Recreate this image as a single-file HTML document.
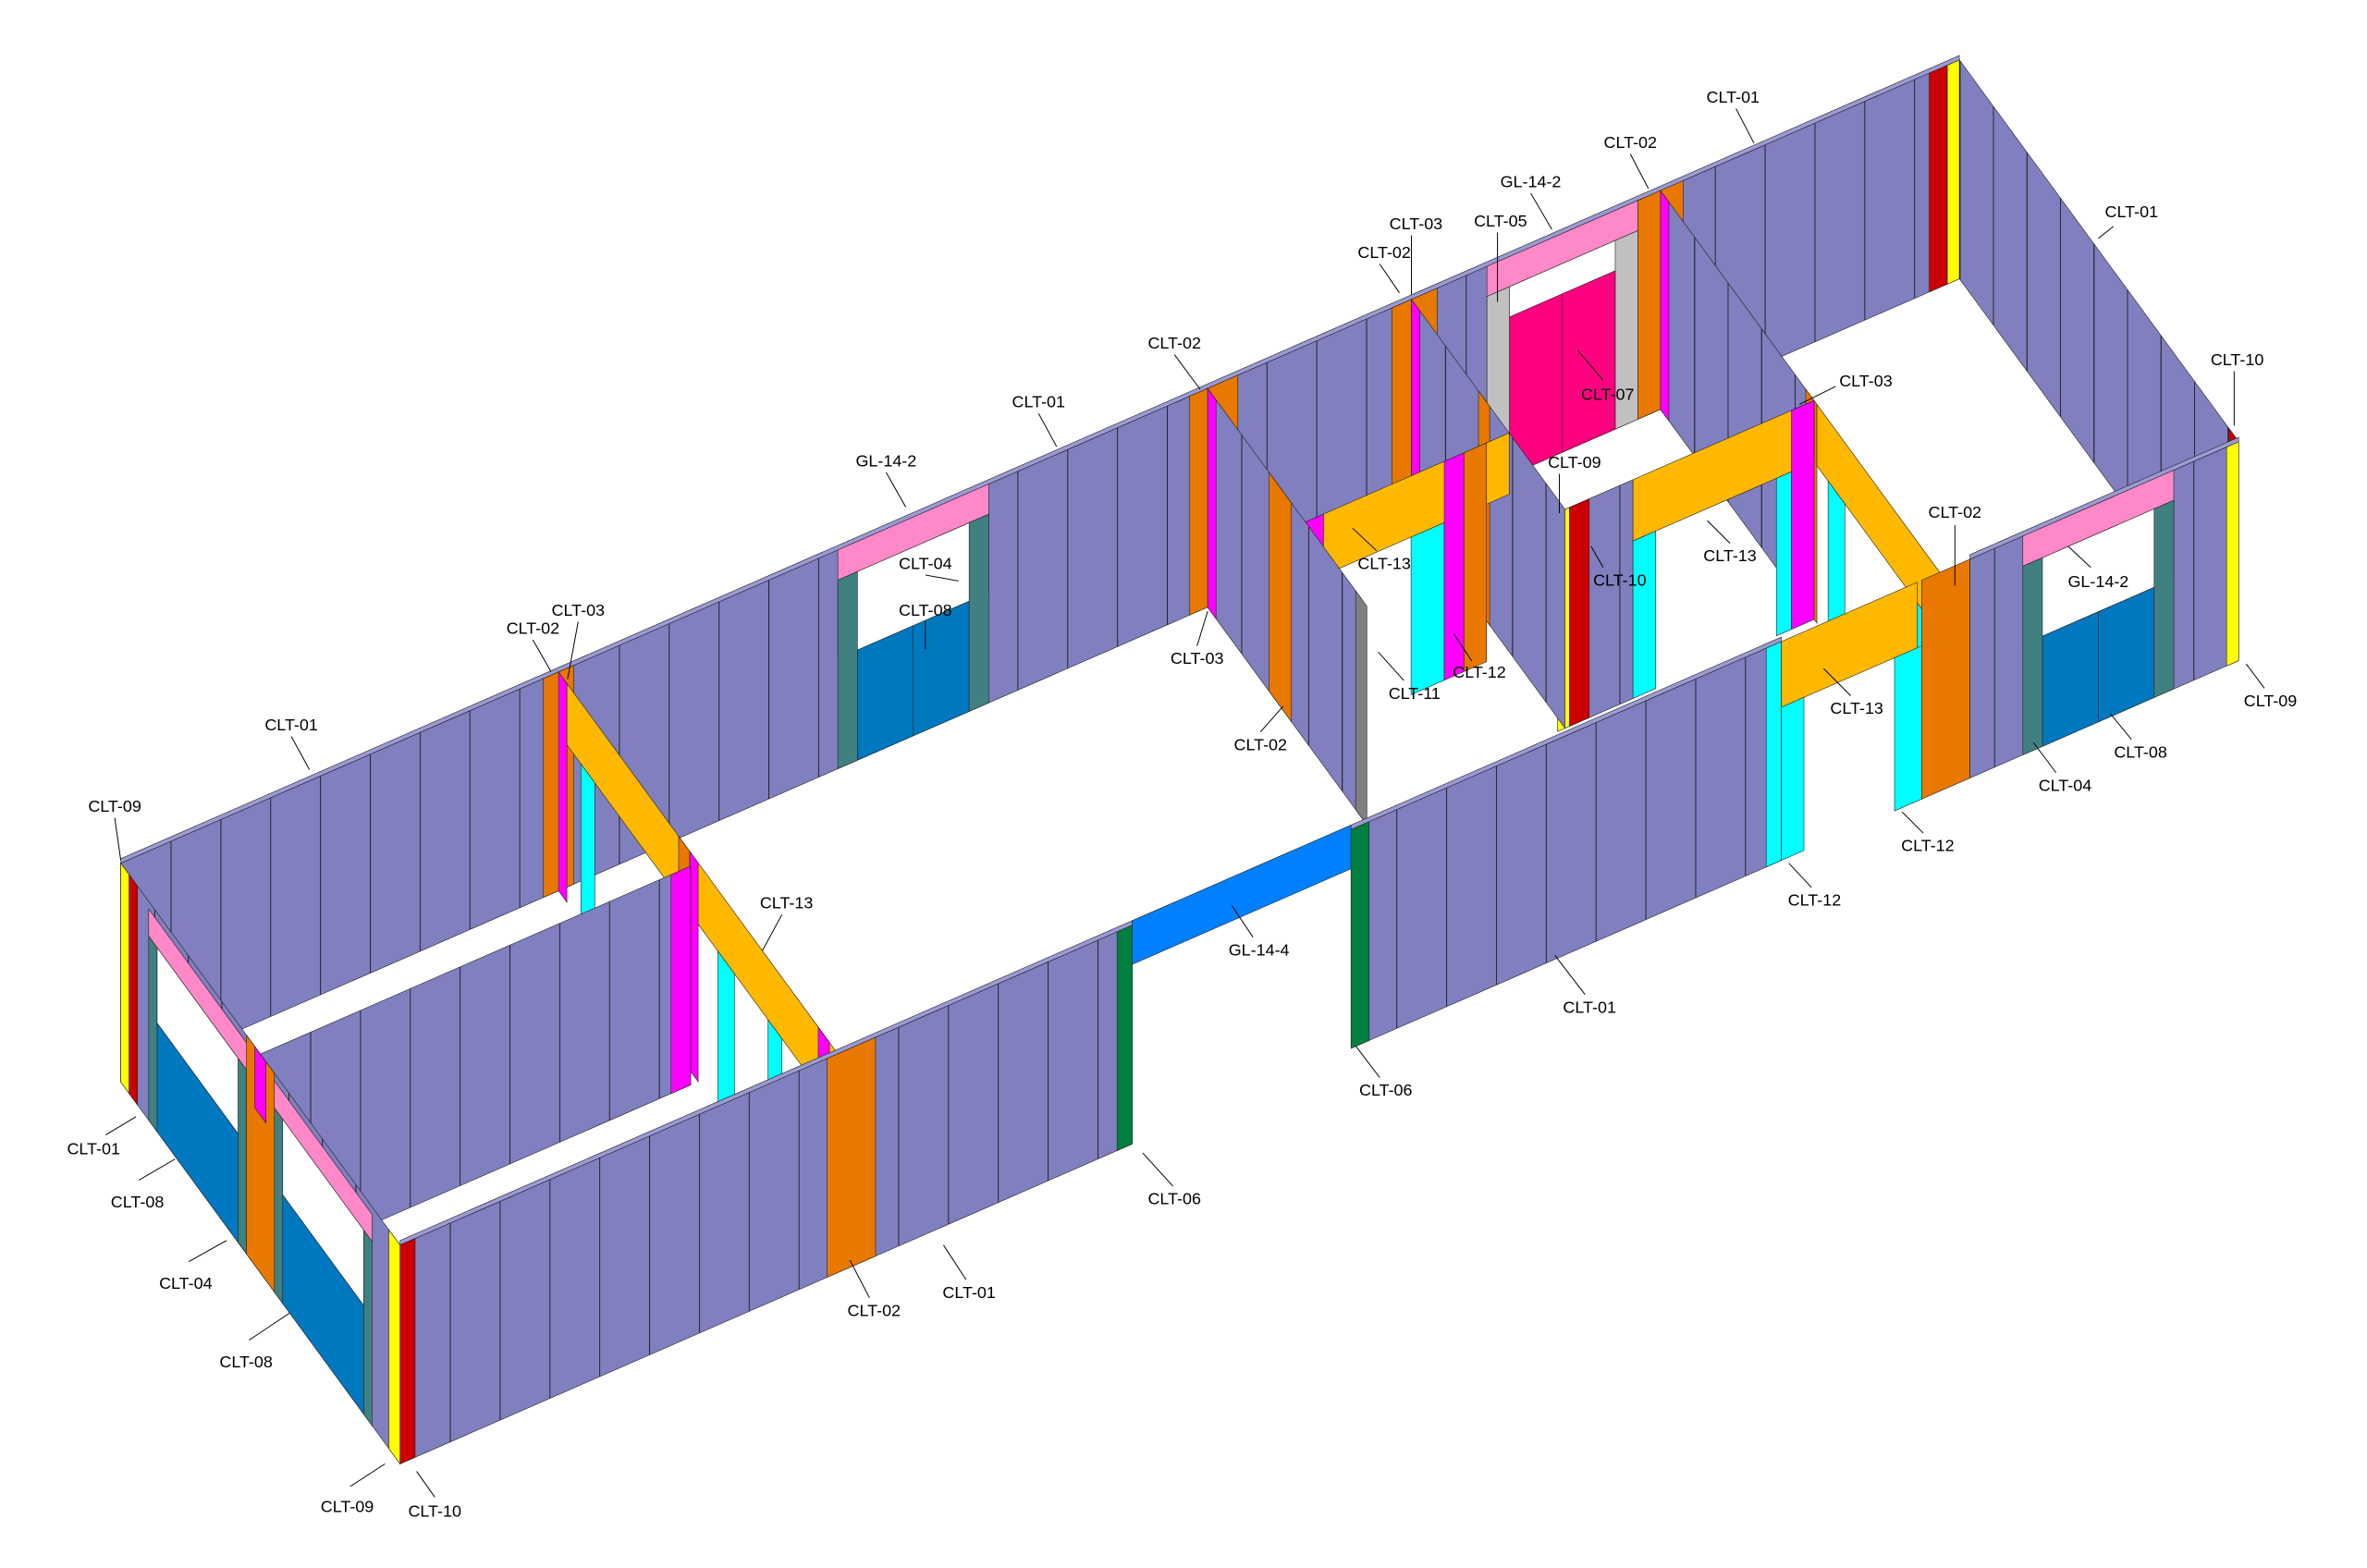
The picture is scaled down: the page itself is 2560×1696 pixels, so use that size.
<!DOCTYPE html>
<html><head><meta charset="utf-8"><style>
html,body{margin:0;padding:0;background:#fff;}
svg{display:block;}
text{font-family:"Liberation Sans",sans-serif;font-size:11px;fill:#000;}
g.w rect,g.w line{stroke:#222;stroke-width:0.6;vector-effect:non-scaling-stroke;}
</style></head><body>
<svg width="2560" height="1696" viewBox="0 0 1568 1039" preserveAspectRatio="none" xmlns="http://www.w3.org/2000/svg">
<defs>
<pattern id="pu" patternUnits="userSpaceOnUse" x="0" y="0" width="33" height="145">
<rect width="33" height="145" fill="#8080c0"/><line x1="0.3" y1="0" x2="0.3" y2="145" stroke="#222" stroke-width="0.6"/>
</pattern>
<pattern id="pv" patternUnits="userSpaceOnUse" x="0" y="0" width="12" height="145">
<rect width="12" height="145" fill="#8080c0"/><line x1="0.2" y1="0" x2="0.2" y2="145" stroke="#222" stroke-width="0.35"/>
</pattern>
</defs>
<rect width="1568" height="1039" fill="#fff"/>

<!-- back wall v=0 -->
<g class="w" transform="matrix(1,-0.437,0,1,80,717)">
<rect x="0" y="-145" width="1218" height="145" fill="url(#pu)"/>
<rect x="0" y="-148" width="1218" height="3" fill="#9a9ad4"/>
<rect x="475" y="-145" width="100" height="20" fill="#ff88c8"/>
<rect x="475" y="-125" width="100" height="52" fill="#fff"/>
<rect x="488" y="-73" width="74" height="73" fill="#0078c0"/>
<rect x="475" y="-125" width="13" height="125" fill="#408080"/>
<rect x="562" y="-125" width="13" height="125" fill="#408080"/>
<line x1="525" y1="-73" x2="525" y2="0"/>
<rect x="905" y="-145" width="100" height="20" fill="#ff88c8"/>
<rect x="905" y="-125" width="100" height="125" fill="#fff"/>
<rect x="905" y="-125" width="15" height="125" fill="#c0c0c0"/>
<rect x="990" y="-125" width="15" height="125" fill="#c0c0c0"/>
<rect x="920" y="-105" width="70" height="105" fill="#ff0080"/>
<line x1="955" y1="-105" x2="955" y2="0"/>
<rect x="280" y="-145" width="20" height="145" fill="#e87800"/>
<rect x="708" y="-145" width="32" height="145" fill="#e87800"/>
<rect x="842" y="-145" width="30" height="145" fill="#e87800"/>
<rect x="1005" y="-145" width="30" height="145" fill="#e87800"/>
<rect x="1198" y="-145" width="12" height="145" fill="#cc0000"/>
<rect x="1210" y="-145" width="8" height="145" fill="#ffff00"/>
</g>

<!-- right wall u=1218 -->
<g class="w" transform="matrix(1.85,2.53,0,1,1298,184.7)">
<rect x="0" y="-145" width="100" height="145" fill="url(#pv)"/>
<rect x="96.5" y="-145" width="3.5" height="145" fill="#cc0000"/>
</g>

<!-- cross wall u=1020 -->
<g class="w" transform="matrix(1.85,2.53,0,1,1100,271.3)">
<rect x="0" y="-145" width="55" height="145" fill="url(#pv)"/>
<rect x="0" y="-145" width="3" height="145" fill="#ff00ff"/>
<rect x="52" y="-145" width="4" height="145" fill="#e87800"/>
<rect x="56" y="-145" width="44" height="40.6" fill="#ffb800"/>
<rect x="60" y="-104.4" width="6" height="104.4" fill="#00ffff"/>
<rect x="90" y="-104.4" width="5" height="104.4" fill="#00ffff"/>
</g>

<!-- longitudinal v=0.55 -->
<g class="w" transform="matrix(1,-0.437,0,1,181.75,856.15)">
<rect x="855" y="-145" width="45" height="145" fill="url(#pu)"/>
<rect x="900" y="-145" width="120" height="40.6" fill="#ffb800"/>
<rect x="900" y="-104.4" width="15" height="104.4" fill="#00ffff"/>
<rect x="995" y="-104.4" width="10" height="104.4" fill="#00ffff"/>
<rect x="1005" y="-145" width="15" height="145" fill="#ff00ff"/>
<rect x="850" y="-145" width="8" height="145" fill="#ffff00"/>
<rect x="858" y="-145" width="13" height="145" fill="#cc0000"/>
</g>

<!-- cross wall u=855 -->
<g class="w" transform="matrix(1.85,2.53,0,1,935,343.4)">
<rect x="0" y="-145" width="55" height="145" fill="url(#pv)"/>
<rect x="0" y="-145" width="3" height="145" fill="#ff00ff"/>
<rect x="24" y="-145" width="4" height="145" fill="#e87800"/>
</g>

<!-- beam v=0.35 -->
<g class="w" transform="matrix(1,-0.437,0,1,144.75,805.55)">
<rect x="720" y="-145" width="135" height="40.6" fill="#ffb800"/>
<rect x="720" y="-145" width="12" height="145" fill="#ff00ff"/>
<rect x="732" y="-104.4" width="10" height="104.4" fill="#00ffff"/>
<rect x="790" y="-104.4" width="22" height="104.4" fill="#00ffff"/>
<rect x="812" y="-145" width="13" height="145" fill="#ff00ff"/>
<rect x="825" y="-145" width="15" height="145" fill="#e87800"/>
</g>

<!-- cross wall u=720 -->
<g class="w" transform="matrix(1.85,2.53,0,1,800,402.4)">
<rect x="0" y="-145" width="55" height="145" fill="url(#pv)"/>
<rect x="0" y="-145" width="3" height="145" fill="#ff00ff"/>
<rect x="22" y="-145" width="8" height="145" fill="#e87800"/>
<rect x="53" y="-145" width="4" height="145" fill="#808080"/>
</g>

<!-- cross wall u=290 -->
<g class="w" transform="matrix(1.85,2.53,0,1,370,590.3)">
<rect x="0" y="-145" width="3" height="145" fill="#ff00ff"/>
<rect x="3" y="-145" width="97" height="40.6" fill="#ffb800"/>
<rect x="8" y="-104.4" width="5" height="104.4" fill="#00ffff"/>
<rect x="43" y="-145" width="4" height="145" fill="#e87800"/>
<rect x="47" y="-145" width="3" height="145" fill="#ff00ff"/>
<rect x="57" y="-104.4" width="6" height="104.4" fill="#00ffff"/>
<rect x="75" y="-104.4" width="5" height="104.4" fill="#00ffff"/>
<rect x="93" y="-145" width="4" height="145" fill="#ff00ff"/>
</g>

<!-- longitudinal v=0.5 -->
<g class="w" transform="matrix(1,-0.437,0,1,172.5,843.5)">
<rect x="0" y="-145" width="285" height="145" fill="url(#pu)"/>
<rect x="272" y="-145" width="13" height="145" fill="#ff00ff"/>
</g>

<!-- front wall v=1 -->
<g class="w" transform="matrix(1,-0.437,0,1,265,970)">
<rect x="0" y="-145" width="485" height="145" fill="url(#pu)"/>
<rect x="0" y="-148" width="485" height="3" fill="#9a9ad4"/>
<rect x="283" y="-145" width="32" height="145" fill="#e87800"/>
<rect x="0" y="-145" width="10" height="145" fill="#cc0000"/>
<rect x="475" y="-145" width="10" height="145" fill="#008040"/>
<rect x="485" y="-148" width="145" height="29" fill="#0080ff"/>
<rect x="630" y="-145" width="285" height="145" fill="url(#pu)"/>
<rect x="630" y="-148" width="285" height="3" fill="#9a9ad4"/>
<rect x="630" y="-145" width="12" height="145" fill="#008040"/>
<rect x="905" y="-145" width="10" height="145" fill="#00ffff"/>
<rect x="915" y="-145" width="90" height="43.5" fill="#ffb800"/>
<rect x="915" y="-101.5" width="15" height="101.5" fill="#00ffff"/>
<rect x="990" y="-101.5" width="18" height="101.5" fill="#00ffff"/>
<rect x="1008" y="-145" width="32" height="145" fill="#e87800"/>
<rect x="1040" y="-145" width="178" height="145" fill="url(#pu)"/>
<rect x="1040" y="-148" width="178" height="3" fill="#9a9ad4"/>
<rect x="1075" y="-145" width="100" height="20" fill="#ff88c8"/>
<rect x="1075" y="-125" width="100" height="52" fill="#fff"/>
<rect x="1088" y="-73" width="74" height="73" fill="#0078c0"/>
<rect x="1075" y="-125" width="13" height="125" fill="#408080"/>
<rect x="1162" y="-125" width="13" height="125" fill="#408080"/>
<line x1="1125" y1="-73" x2="1125" y2="0"/>
<rect x="1210" y="-145" width="8" height="145" fill="#ffff00"/>
</g>

<!-- left wall u=0 -->
<g class="w" transform="matrix(1.85,2.53,0,1,80,717)">
<rect x="0" y="-145" width="100" height="145" fill="url(#pv)"/>
<rect x="10" y="-140" width="80" height="18" fill="#ff88c8"/>
<rect x="13" y="-122" width="32" height="50" fill="#fff"/>
<rect x="55" y="-122" width="32" height="50" fill="#fff"/>
<rect x="13" y="-72" width="32" height="72" fill="#0078c0"/>
<rect x="55" y="-72" width="32" height="72" fill="#0078c0"/>
<rect x="10" y="-122" width="3" height="122" fill="#408080"/>
<rect x="42" y="-122" width="3" height="122" fill="#408080"/>
<rect x="55" y="-122" width="3" height="122" fill="#408080"/>
<rect x="87" y="-122" width="3" height="122" fill="#408080"/>
<rect x="45" y="-145" width="10" height="145" fill="#e87800"/>
<rect x="48" y="-145" width="4" height="40.6" fill="#ff00ff"/>
<rect x="0" y="-145" width="3" height="145" fill="#ffff00"/>
<rect x="3" y="-145" width="3" height="145" fill="#cc0000"/>
<rect x="96" y="-145" width="4" height="145" fill="#ffff00"/>
</g>

<g stroke="#000" stroke-width="0.6">
<line x1="1150" y1="72" x2="1162" y2="95"/>
<line x1="1400" y1="150" x2="1390" y2="158"/>
<line x1="1014" y1="128" x2="1028" y2="152"/>
<line x1="1080" y1="102" x2="1092" y2="125"/>
<line x1="935" y1="156" x2="935" y2="195"/>
<line x1="992" y1="154" x2="992" y2="200"/>
<line x1="914" y1="175" x2="927" y2="194"/>
<line x1="1480" y1="246" x2="1480" y2="282"/>
<line x1="1062" y1="252" x2="1045" y2="232"/>
<line x1="778" y1="235" x2="795" y2="258"/>
<line x1="688" y1="274" x2="700" y2="296"/>
<line x1="1216" y1="256" x2="1192" y2="268"/>
<line x1="1033" y1="314" x2="1033" y2="340"/>
<line x1="587" y1="313" x2="600" y2="336"/>
<line x1="912" y1="365" x2="896" y2="350"/>
<line x1="1062" y1="376" x2="1054" y2="362"/>
<line x1="1146" y1="360" x2="1131" y2="345"/>
<line x1="1295" y1="348" x2="1295" y2="388"/>
<line x1="1385" y1="376" x2="1370" y2="362"/>
<line x1="613" y1="381" x2="635" y2="385"/>
<line x1="613" y1="412" x2="613" y2="430"/>
<line x1="383" y1="412" x2="376" y2="450"/>
<line x1="353" y1="424" x2="365" y2="445"/>
<line x1="793" y1="428" x2="800" y2="405"/>
<line x1="930" y1="451" x2="913" y2="432"/>
<line x1="975" y1="438" x2="963" y2="420"/>
<line x1="1226" y1="461" x2="1208" y2="443"/>
<line x1="1500" y1="456" x2="1488" y2="440"/>
<line x1="193" y1="488" x2="205" y2="510"/>
<line x1="835" y1="485" x2="850" y2="468"/>
<line x1="1412" y1="490" x2="1398" y2="473"/>
<line x1="1362" y1="512" x2="1347" y2="492"/>
<line x1="76" y1="542" x2="80" y2="570"/>
<line x1="1274" y1="552" x2="1260" y2="538"/>
<line x1="1200" y1="588" x2="1185" y2="572"/>
<line x1="518" y1="606" x2="505" y2="630"/>
<line x1="830" y1="621" x2="816" y2="600"/>
<line x1="1050" y1="659" x2="1030" y2="633"/>
<line x1="914" y1="714" x2="898" y2="693"/>
<line x1="70" y1="752" x2="90" y2="740"/>
<line x1="92" y1="782" x2="116" y2="768"/>
<line x1="777" y1="786" x2="757" y2="764"/>
<line x1="125" y1="836" x2="150" y2="822"/>
<line x1="640" y1="848" x2="625" y2="825"/>
<line x1="576" y1="860" x2="563" y2="835"/>
<line x1="165" y1="888" x2="192" y2="870"/>
<line x1="232" y1="985" x2="255" y2="970"/>
<line x1="288" y1="992" x2="276" y2="975"/>
</g>
<g text-anchor="middle">
<text x="1148" y="68">CLT-01</text>
<text x="1412" y="144">CLT-01</text>
<text x="1014" y="124">GL-14-2</text>
<text x="1080" y="98">CLT-02</text>
<text x="938" y="152">CLT-03</text>
<text x="994" y="150">CLT-05</text>
<text x="917" y="171">CLT-02</text>
<text x="1482" y="242">CLT-10</text>
<text x="1065" y="265">CLT-07</text>
<text x="778" y="231">CLT-02</text>
<text x="688" y="270">CLT-01</text>
<text x="1236" y="256">CLT-03</text>
<text x="1043" y="310">CLT-09</text>
<text x="587" y="309">GL-14-2</text>
<text x="917" y="377">CLT-13</text>
<text x="1073" y="388">CLT-10</text>
<text x="1146" y="372">CLT-13</text>
<text x="1295" y="343">CLT-02</text>
<text x="1390" y="389">GL-14-2</text>
<text x="613" y="377">CLT-04</text>
<text x="613" y="408">CLT-08</text>
<text x="383" y="408">CLT-03</text>
<text x="353" y="420">CLT-02</text>
<text x="793" y="440">CLT-03</text>
<text x="937" y="463">CLT-11</text>
<text x="980" y="449">CLT-12</text>
<text x="1230" y="473">CLT-13</text>
<text x="1504" y="468">CLT-09</text>
<text x="193" y="484">CLT-01</text>
<text x="835" y="497">CLT-02</text>
<text x="1418" y="502">CLT-08</text>
<text x="1368" y="524">CLT-04</text>
<text x="76" y="538">CLT-09</text>
<text x="1277" y="564">CLT-12</text>
<text x="1202" y="600">CLT-12</text>
<text x="521" y="602">CLT-13</text>
<text x="834" y="633">GL-14-4</text>
<text x="1053" y="671">CLT-01</text>
<text x="918" y="726">CLT-06</text>
<text x="62" y="765">CLT-01</text>
<text x="91" y="800">CLT-08</text>
<text x="778" y="798">CLT-06</text>
<text x="123" y="854">CLT-04</text>
<text x="642" y="860">CLT-01</text>
<text x="579" y="872">CLT-02</text>
<text x="163" y="906">CLT-08</text>
<text x="230" y="1002">CLT-09</text>
<text x="288" y="1005">CLT-10</text>
</g>
</svg>
</body></html>
